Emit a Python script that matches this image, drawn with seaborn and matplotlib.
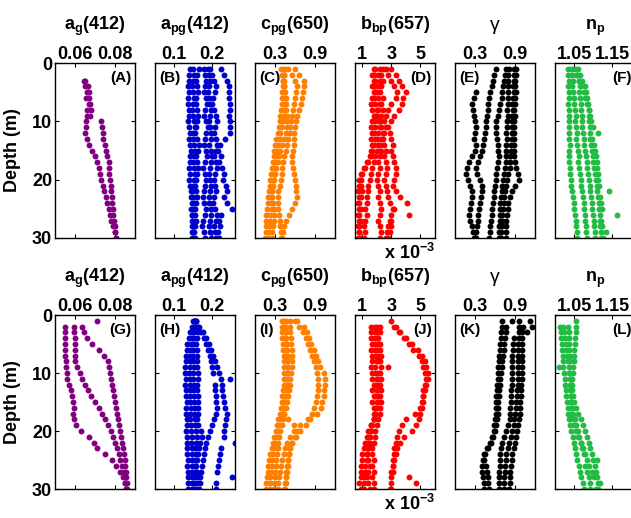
import numpy as np
import pandas as pd
import matplotlib
matplotlib.use("Agg")
import matplotlib.pyplot as plt
import seaborn as sns

nan = np.nan

# depth (m), one reading per metre for every cast
DEPTH = [1, 2, 3, 4, 5, 6, 7, 8, 9, 10, 11, 12, 13, 14, 15,
         16, 17, 18, 19, 20, 21, 22, 23, 24, 25, 26, 27, 28, 29, 30]

# -----------------------------
# top row (A-F)
# -----------------------------
A1 = [nan, nan, 0.0643, 0.0650, 0.0660, 0.0655, 0.0668, 0.0662, 0.0658, 0.0657,
      0.0653, 0.0652, 0.0660, 0.0672, 0.0686, 0.0700, 0.0712, 0.0720, 0.0726, 0.0732,
      0.0740, 0.0747, 0.0754, 0.0762, 0.0770, 0.0776, 0.0782, 0.0790, 0.0798, 0.0805]
A2 = [nan, nan, 0.0652, 0.0665, 0.0672, 0.0668, 0.0676, 0.0680, 0.0673, 0.0730,
      0.0733, 0.0738, 0.0742, 0.0748, 0.0753, 0.0760, 0.0768, 0.0772, 0.0770, 0.0775,
      0.0778, 0.0780, 0.0783, 0.0786, 0.0788, 0.0792, 0.0795, 0.0798, 0.0802, 0.0806]

B1 = [0.142, 0.140, 0.138, 0.137, 0.138, 0.136, 0.137, 0.139, 0.138, 0.137,
      0.139, 0.141, 0.140, 0.142, 0.144, 0.143, 0.141, 0.140, 0.142, 0.140,
      0.143, 0.145, 0.144, 0.146, 0.145, 0.147, 0.146, 0.148, 0.147, 0.149]
B2 = [0.165, 0.160, 0.158, 0.160, 0.162, 0.158, 0.157, 0.160, 0.163, 0.161,
      0.158, 0.156, 0.160, 0.165, 0.162, 0.158, 0.160, 0.164, 0.161, 0.157,
      0.155, 0.158, 0.160, 0.157, 0.154, 0.156, 0.158, 0.155, 0.153, 0.156]
B3 = [0.178, 0.182, 0.185, 0.180, 0.178, 0.183, 0.186, 0.182, 0.179, 0.184,
      0.188, 0.185, 0.181, 0.178, 0.183, 0.187, 0.182, 0.176, 0.180, 0.185,
      0.182, 0.178, 0.175, 0.179, 0.183, 0.180, 0.176, 0.174, 0.178, 0.180]
B4 = [0.195, 0.200, 0.205, 0.210, 0.208, 0.203, 0.200, 0.205, 0.210, 0.212,
      0.208, 0.205, 0.210, 0.214, 0.210, 0.206, 0.209, 0.212, 0.208, 0.204,
      0.207, 0.211, 0.206, 0.203, 0.208, 0.212, 0.209, 0.205, 0.208, 0.210]
B5 = [0.222, 0.232, 0.240, 0.244, 0.245, 0.243, 0.246, 0.247, 0.245, 0.246,
      0.248, 0.247, 0.235, 0.220, 0.215, 0.222, 0.218, 0.225, 0.232, 0.228,
      0.236, 0.240, 0.230, 0.238, 0.252, 0.222, 0.218, 0.220, 0.215, 0.218]
B6 = [0.150, 0.152, 0.150, 0.148, 0.151, 0.153, 0.150, 0.148, 0.150, 0.152,
      0.154, 0.151, 0.149, 0.152, 0.155, 0.153, 0.150, 0.152, 0.155, 0.152,
      0.150, 0.148, 0.151, 0.153, 0.150, 0.148, 0.150, 0.152, 0.150, 0.148]
B7 = [0.190, 0.192, 0.195, 0.193, 0.190, 0.192, 0.195, 0.197, 0.194, 0.192,
      0.195, 0.198, 0.196, 0.193, 0.196, 0.199, 0.197, 0.194, 0.192, 0.195,
      0.197, 0.194, 0.191, 0.193, 0.196, 0.198, 0.195, 0.192, 0.194, 0.196]

C1 = [0.60, 0.66, 0.73, 0.74, 0.72, 0.71, 0.69, 0.66, 0.63, 0.61,
      0.60, 0.59, 0.58, 0.58, 0.57, 0.56, 0.56, 0.57, 0.59, 0.60,
      0.61, 0.62, 0.63, 0.60, 0.55, 0.51, 0.47, 0.43, 0.42, 0.41]
C2 = [0.50, 0.55, 0.60, 0.63, 0.62, 0.60, 0.58, 0.57, 0.55, 0.54,
      0.53, 0.52, 0.50, 0.48, 0.46, 0.44, 0.42, 0.41, 0.40, 0.39,
      0.37, 0.35, 0.34, 0.34, 0.35, 0.36, 0.37, 0.38, 0.39, 0.39]
C3 = [0.43, 0.43, 0.42, 0.42, 0.41, 0.41, 0.40, 0.39, 0.38, 0.37,
      0.36, 0.34, 0.32, 0.30, 0.29, 0.28, 0.27, 0.25, 0.24, 0.23,
      0.22, 0.21, 0.20, 0.19, 0.18, 0.17, 0.17, 0.16, 0.16, 0.15]
C4 = [0.39, 0.40, 0.42, 0.44, 0.45, 0.46, 0.47, 0.47, 0.48, 0.48,
      0.48, 0.47, 0.44, 0.41, 0.38, 0.36, 0.34, 0.32, 0.30, 0.29,
      0.27, 0.26, 0.26, 0.27, 0.28, 0.29, 0.28, 0.27, 0.26, 0.26]
C5 = [0.45, 0.44, 0.44, 0.43, 0.43, 0.44, 0.45, 0.44, 0.43, 0.42,
      0.40, 0.38, 0.37, 0.35, 0.33, 0.31, 0.30, 0.29, 0.28, 0.27,
      0.26, 0.25, 0.24, 0.24, 0.25, 0.23, 0.22, 0.21, 0.21, 0.20]

# b_bp in units of 1e-3
D1 = [2.2, 2.1, 2.2, 2.1, 2.0, 2.1, 2.2, 2.1, 2.0, 2.1,
      2.2, 2.1, 2.0, 2.1, 2.0, 1.9, 1.8, 1.7, 1.6, 1.5,
      1.4, 1.4, 1.3, 1.3, 1.2, 1.3, 1.2, 1.1, 1.2, 1.1]
D2 = [1.9, 1.8, 1.9, 1.8, 1.9, 1.8, 1.9, 2.0, 1.9, 1.8,
      1.9, 1.8, 1.9, 1.8, 1.7, 1.6, 1.4, 1.2, 1.0, 0.9,
      0.9, 1.0, 0.9, 0.8, 0.9, 0.8, 0.9, 0.8, 0.8, 0.9]
D3 = [2.4, 2.3, 2.4, 2.3, 2.2, 2.4, 2.3, 2.4, 2.3, 2.2,
      2.3, 2.4, 2.3, 2.2, 2.3, 2.2, 2.1, 2.2, 2.1, 2.0,
      2.1, 2.2, 2.1, 2.2, 2.3, 2.2, 2.1, 2.2, 2.3, 2.2]
D4 = [3.0, 3.3, 3.5, 3.7, 4.0, 3.8, 3.7, 3.5, 3.2, 3.0,
      2.8, 2.9, 3.0, 3.1, 3.0, 3.1, 3.2, 3.3, 3.3, 3.2,
      3.1, 3.3, 3.6, 4.1, 3.2, 3.0, 2.9, 3.0, 2.9, 2.8]
D5 = [2.6, 2.8, 3.0, 3.2, 3.4, 3.3, 3.0, 2.8, 2.6, 2.5,
      2.6, 2.5, 2.4, 2.5, 2.6, 2.5, 2.6, 2.7, 2.6, 2.5,
      2.6, 2.7, 2.8, 2.9, 3.1, 4.2, 3.0, 2.8, 2.7, 2.6]
D6 = [1.8, 1.7, 1.8, 1.7, 1.8, 1.7, 1.6, 1.7, 1.8, 1.7,
      1.6, 1.7, 1.6, 1.7, 1.6, 1.5, 1.3, 1.1, 0.9, 0.8,
      0.8, 0.7, 0.8, 0.7, 0.8, 0.7, 0.8, 0.7, 0.8, 0.7]

E1 = [0.89, 0.88, 0.88, 0.87, 0.88, 0.87, 0.86, 0.87, 0.86, 0.86,
      0.85, 0.86, 0.85, 0.84, 0.84, 0.83, 0.83, 0.82, 0.80, 0.78,
      0.76, 0.75, 0.74, 0.73, 0.72, 0.71, 0.70, 0.70, 0.69, 0.69]
E2 = [0.81, 0.80, 0.80, 0.79, 0.79, 0.80, 0.79, 0.78, 0.79, 0.78,
      0.78, 0.77, 0.78, 0.77, 0.77, 0.76, 0.76, 0.75, 0.74, 0.72,
      0.71, 0.70, 0.69, 0.68, 0.68, 0.67, 0.67, 0.66, 0.66, 0.66]
E3 = [0.91, 0.91, 0.90, 0.90, 0.91, 0.90, 0.90, 0.89, 0.90, 0.89,
      0.89, 0.88, 0.89, 0.88, 0.88, 0.89, 0.90, 0.92, 0.94, 0.96,
      0.90, 0.85, 0.82, 0.80, 0.79, 0.78, 0.77, 0.77, 0.76, 0.76]
E4 = [0.76, 0.75, 0.73, 0.72, 0.71, 0.70, 0.68, 0.66, 0.64, 0.62,
      0.61, 0.62, 0.63, 0.64, 0.65, 0.66, 0.64, 0.63, 0.62, 0.61,
      0.60, 0.59, 0.58, 0.57, 0.56, 0.55, 0.54, 0.53, 0.52, 0.51]
E5 = [0.61, 0.59, 0.57, 0.55, 0.53, 0.51, 0.50, 0.49, 0.48, 0.47,
      0.46, 0.45, 0.44, 0.42, 0.41, 0.38, 0.34, 0.31, 0.33, 0.37,
      0.40, 0.41, 0.39, 0.37, 0.36, 0.35, 0.34, 0.33, 0.32, 0.31]
E6 = [nan, nan, nan, nan, 0.32, 0.29, 0.26, 0.27, 0.29, 0.30,
      0.31, 0.30, 0.29, 0.31, 0.30, 0.25, 0.21, 0.18, 0.16, 0.19,
      0.22, 0.25, 0.26, 0.24, 0.22, 0.21, 0.23, 0.25, 0.27, 0.28]

F1 = [1.035, 1.034, 1.036, 1.035, 1.037, 1.036, 1.035, 1.037, 1.038, 1.037,
      1.036, 1.038, 1.037, 1.039, 1.038, 1.037, 1.038, 1.039, 1.040, 1.041,
      1.043, 1.045, 1.047, 1.049, 1.051, 1.053, 1.055, 1.056, 1.057, 1.058]
F2 = [1.042, 1.044, 1.046, 1.045, 1.048, 1.050, 1.049, 1.052, 1.054, 1.053,
      1.055, 1.057, 1.056, 1.058, 1.060, 1.062, 1.061, 1.063, 1.065, 1.067,
      1.069, 1.071, 1.073, 1.075, 1.076, 1.078, 1.079, 1.081, 1.082, 1.083]
F3 = [1.055, 1.058, 1.062, 1.065, 1.063, 1.066, 1.068, 1.067, 1.070, 1.072,
      1.071, 1.073, 1.075, 1.077, 1.079, 1.081, 1.083, 1.085, 1.087, 1.089,
      1.091, 1.093, 1.095, 1.097, 1.098, 1.100, 1.102, 1.103, 1.104, 1.105]
F4 = [1.060, 1.066, 1.072, 1.078, 1.082, 1.084, 1.086, 1.088, 1.089, 1.090,
      1.091, 1.092, 1.093, 1.095, 1.097, 1.099, 1.101, 1.103, 1.105, 1.107,
      1.109, 1.111, 1.113, 1.115, 1.116, 1.117, 1.118, 1.119, 1.120, 1.121]
F5 = [1.048, 1.055, 1.062, 1.068, 1.075, 1.080, 1.084, 1.088, 1.092, 1.095,
      1.100, 1.114, 1.098, 1.102, 1.105, 1.107, 1.109, 1.110, 1.112, 1.113,
      1.115, 1.143, 1.118, 1.121, 1.124, 1.164, 1.120, 1.124, 1.135, 1.126]

# -----------------------------
# bottom row (G-L)
# -----------------------------
G1 = [nan, 0.0551, 0.0550, 0.0551, 0.0552, 0.0551, 0.0552, 0.0553, 0.0555, 0.0558,
      0.0562, 0.0570, 0.0580, 0.0586, 0.0590, 0.0593, 0.0588, 0.0595, 0.0605, 0.0630,
      0.0670, 0.0695, 0.0710, 0.0750, 0.0785, 0.0805, 0.0825, 0.0840, 0.0850, 0.0856]
G2 = [nan, 0.0593, 0.0596, 0.0598, 0.0600, 0.0601, 0.0600, 0.0602, 0.0612, 0.0625,
      0.0637, 0.0648, 0.0663, 0.0680, 0.0700, 0.0718, 0.0735, 0.0750, 0.0765, 0.0780,
      0.0792, 0.0802, 0.0810, 0.0818, 0.0826, 0.0836, 0.0843, 0.0848, 0.0852, 0.0856]
G3 = [0.0710, 0.0635, 0.0645, 0.0658, 0.0685, 0.0718, 0.0745, 0.0765, 0.0772, 0.0777,
      0.0781, 0.0786, 0.0790, 0.0795, 0.0800, 0.0806, 0.0810, 0.0814, 0.0820, 0.0826,
      0.0830, 0.0836, 0.0842, 0.0846, 0.0850, 0.0852, 0.0854, 0.0857, 0.0860, 0.0862]

H1 = [0.150, 0.146, 0.142, 0.138, 0.135, 0.133, 0.132, 0.131, 0.130, 0.130,
      0.131, 0.130, 0.132, 0.131, 0.133, 0.132, 0.131, 0.133, 0.134, 0.132,
      0.133, 0.134, 0.135, 0.134, 0.136, 0.135, 0.136, 0.137, 0.136, 0.137]
H2 = [0.152, 0.150, 0.148, 0.146, 0.144, 0.143, 0.142, 0.141, 0.142, 0.140,
      0.141, 0.142, 0.141, 0.143, 0.142, 0.144, 0.143, 0.142, 0.144, 0.145,
      0.146, 0.145, 0.147, 0.146, 0.148, 0.147, 0.146, 0.148, 0.147, 0.146]
H3 = [0.155, 0.154, 0.153, 0.152, 0.151, 0.150, 0.151, 0.150, 0.152, 0.151,
      0.150, 0.152, 0.151, 0.153, 0.152, 0.154, 0.153, 0.155, 0.156, 0.158,
      0.160, 0.158, 0.156, 0.157, 0.155, 0.154, 0.156, 0.155, 0.153, 0.152]
H4 = [0.158, 0.160, 0.162, 0.160, 0.158, 0.159, 0.160, 0.161, 0.160, 0.162,
      0.163, 0.161, 0.160, 0.162, 0.163, 0.164, 0.162, 0.161, 0.163, 0.170,
      0.174, 0.168, 0.165, 0.163, 0.160, 0.158, 0.160, 0.162, 0.159, 0.157]
H5 = [0.155, 0.165, 0.175, 0.185, 0.192, 0.198, 0.203, 0.208, 0.212, 0.218,
      0.222, 0.225, 0.227, 0.229, 0.232, 0.235, 0.238, 0.236, 0.234, 0.232,
      0.231, 0.261, 0.222, 0.220, 0.218, 0.216, 0.214, 0.252, 0.211, 0.210]
H6 = [0.158, 0.163, 0.170, 0.178, 0.185, 0.190, 0.194, 0.197, 0.200, 0.202,
      0.247, 0.207, 0.208, 0.210, 0.211, 0.212, 0.210, 0.205, 0.200, 0.195,
      0.189, 0.184, 0.180, 0.178, 0.176, 0.174, 0.172, 0.169, 0.167, 0.165]

I1 = [0.40, 0.40, 0.41, 0.41, 0.42, 0.42, 0.43, 0.43, 0.44, 0.44,
      0.44, 0.43, 0.42, 0.41, 0.40, 0.39, 0.37, 0.35, 0.33, 0.31,
      0.29, 0.27, 0.25, 0.23, 0.21, 0.20, 0.19, 0.18, 0.17, 0.16]
I2 = [0.46, 0.46, 0.47, 0.47, 0.48, 0.48, 0.49, 0.49, 0.50, 0.50,
      0.50, 0.49, 0.48, 0.46, 0.44, 0.42, 0.40, 0.38, 0.36, 0.34,
      0.32, 0.30, 0.28, 0.27, 0.26, 0.25, 0.24, 0.23, 0.22, 0.22]
I3 = [0.53, 0.53, 0.53, 0.54, 0.54, 0.55, 0.55, 0.55, 0.55, 0.54,
      0.53, 0.52, 0.51, 0.50, 0.48, 0.46, 0.44, 0.42, 0.40, 0.38,
      0.36, 0.35, 0.34, 0.33, 0.32, 0.31, 0.30, 0.30, 0.29, 0.29]
I4 = [0.44, 0.44, 0.45, 0.45, 0.46, 0.46, 0.47, 0.47, 0.48, 0.48,
      0.47, 0.46, 0.45, 0.44, 0.43, 0.42, 0.44, 0.50, 0.58, 0.63,
      0.60, 0.56, 0.53, 0.51, 0.49, 0.48, 0.47, 0.46, 0.45, 0.43]
I5 = [0.63, 0.73, 0.78, 0.81, 0.84, 0.88, 0.92, 0.95, 0.98, 1.03,
      1.05, 1.05, 1.04, 1.03, 1.01, 0.99, 0.93, 0.80, 0.68, 0.58,
      0.52, 0.48, 0.45, 0.43, 0.41, 0.39, 0.37, 0.36, 0.35, 0.34]
I6 = [0.60, 0.66, 0.72, 0.76, 0.79, 0.82, 0.85, 0.88, 0.91, 0.93,
      0.95, 0.95, 0.94, 0.93, 0.91, 0.89, 0.86, 0.82, 0.76, 0.68,
      0.61, 0.56, 0.53, 0.51, 0.50, 0.49, 0.48, 0.47, 0.46, 0.45]

J1 = [nan, 1.6, 1.6, 1.6, 1.7, 1.6, 1.7, 1.7, 1.6, 1.7,
      1.7, 1.8, 1.7, 1.8, 1.7, 1.8, 1.8, 1.8, 1.7, 1.6,
      1.5, 1.4, 1.4, 1.3, 1.3, 1.2, 1.2, 1.1, 1.1, 1.1]
J2 = [nan, 2.2, 2.2, 2.1, 2.2, 2.2, 2.3, 2.2, 2.3, 2.2,
      2.3, 2.2, 2.3, 2.2, 2.3, 2.2, 2.2, 2.1, 2.0, 1.9,
      1.9, 1.8, 1.7, 1.7, 1.8, 1.7, 1.8, 1.7, 1.8, 1.8]
J3 = [nan, 2.0, 2.0, 2.0, 2.1, 2.0, 2.1, 2.0, 2.8, 2.1,
      2.0, 2.1, 2.0, 2.1, 2.1, 2.0, 1.9, 1.8, 1.6, 1.4,
      1.3, 1.2, 1.1, 1.0, 1.0, 0.9, 0.9, 0.9, 0.8, 0.9]
J4 = [3.0, 3.3, 3.5, 3.9, 4.2, 4.5, 4.9, 5.1, 5.2, 5.3,
      5.4, 5.3, 5.2, 5.2, 5.1, 5.0, 5.0, 4.9, 4.7, 4.4,
      3.9, 3.6, 3.4, 3.3, 3.2, 3.1, 3.1, 3.0, 3.0, 2.9]
J5 = [nan, 3.2, 3.6, 4.0, 4.4, 4.8, 5.1, 5.3, 5.4, 5.5,
      5.5, 5.4, 5.3, 5.2, 5.2, 5.1, 4.6, 4.0, 3.7, 3.5,
      3.4, 3.3, 3.2, 3.2, 3.1, 3.1, 3.0, 4.2, 4.7, 3.0]
J6 = [nan, 1.9, 1.9, 1.8, 1.9, 1.9, 1.9, 2.0, 1.9, 1.9,
      2.0, 1.9, 2.0, 1.9, 2.0, 1.9, 1.9, 1.8, 1.6, 1.5,
      1.4, 1.5, 1.4, 1.3, 1.4, 1.5, 1.4, 1.3, 1.4, 1.5]

K1 = [0.71, 0.70, 0.69, 0.69, 0.68, 0.67, 0.66, 0.66, 0.65, 0.64,
      0.64, 0.63, 0.63, 0.62, 0.62, 0.61, 0.61, 0.60, 0.59, 0.58,
      0.56, 0.53, 0.50, 0.45, 0.44, 0.46, 0.48, 0.49, 0.50, 0.51]
K2 = [nan, 0.77, 0.76, 0.75, 0.74, 0.73, 0.72, 0.71, 0.70, 0.69,
      0.68, 0.67, 0.66, 0.66, 0.65, 0.64, 0.64, 0.63, 0.62, 0.60,
      0.57, 0.54, 0.48, 0.44, 0.42, 0.41, 0.41, 0.42, 0.43, 0.44]
K3 = [0.96, 0.96, 0.96, 0.96, 0.95, 0.95, 0.95, 0.95, 0.94, 0.94,
      0.94, 0.94, 0.93, 0.93, 0.92, 0.91, 0.90, 0.89, 0.88, 0.86,
      0.84, 0.81, 0.79, 0.77, 0.76, 0.75, 0.75, 0.74, 0.74, 0.73]
K4 = [0.86, 1.16, 1.08, 0.88, 0.87, 0.87, 0.86, 0.86, 0.86, 0.85,
      0.85, 0.85, 0.84, 0.84, 0.84, 0.83, 0.83, 0.82, 0.80, 0.77,
      0.74, 0.71, 0.69, 0.68, 0.67, 0.67, 0.66, 0.66, 0.66, 0.66]
K5 = [1.13, 1.02, 1.01, 1.01, 1.01, 1.01, 1.00, 1.00, 1.01, 1.00,
      1.00, 0.99, 0.99, 0.99, 0.98, 0.98, 0.97, 0.96, 0.95, 0.93,
      0.92, 0.90, 0.88, 0.86, 0.85, 0.84, 0.83, 0.82, 0.82, 0.81]

L1 = [nan, 1.014, 1.016, 1.017, 1.018, 1.019, 1.020, 1.021, 1.022, 1.024,
      1.025, 1.027, 1.028, 1.029, 1.031, 1.033, 1.034, 1.037, 1.040, 1.043,
      1.046, 1.050, 1.053, 1.056, 1.059, 1.062, 1.066, 1.069, 1.073, 1.077]
L2 = [nan, 1.022, 1.024, 1.026, 1.028, 1.030, 1.032, 1.034, 1.036, 1.038,
      1.041, 1.043, 1.045, 1.048, 1.051, 1.054, 1.060, 1.067, 1.073, 1.078,
      1.083, 1.088, 1.093, 1.097, 1.101, 1.106, 1.108, 1.110, 1.112, 1.113]
L3 = [1.056, 1.055, 1.054, 1.053, 1.052, 1.051, 1.050, 1.049, 1.047, 1.046,
      1.045, 1.044, 1.043, 1.043, 1.043, 1.042, 1.043, 1.046, 1.050, 1.055,
      1.060, 1.067, 1.074, 1.080, 1.085, 1.090, 1.096, 1.102, 1.118, 1.108]
L4 = [nan, 1.035, 1.036, 1.037, 1.037, 1.038, 1.039, 1.039, 1.010, 1.039,
      1.040, 1.039, 1.040, 1.041, 1.043, 1.045, 1.048, 1.052, 1.056, 1.060,
      1.064, 1.068, 1.072, 1.076, 1.110, 1.080, 1.085, 1.089, 1.091, 1.093]

TOP_ROW = [[A1, A2], [B1, B2, B3, B4, B5, B6, B7], [C1, C2, C3, C4, C5],
           [D1, D2, D3, D4, D5, D6], [E1, E2, E3, E4, E5, E6], [F1, F2, F3, F4, F5]]
BOTTOM_ROW = [[G1, G2, G3], [H1, H2, H3, H4, H5, H6], [I1, I2, I3, I4, I5, I6],
              [J1, J2, J3, J4, J5, J6], [K1, K2, K3, K4, K5], [L1, L2, L3, L4]]

TITLES = [r"a$_{g}$(412)", r"a$_{pg}$(412)", r"c$_{pg}$(650)", r"b$_{bp}$(657)", "γ", r"n$_{p}$"]
XLIMS = [(0.05, 0.09), (0.05, 0.26), (0.0, 1.2), (0.5, 6.0), (0.0, 1.2), (1.0, 1.21)]
XTICKS = [[0.06, 0.08], [0.1, 0.2], [0.3, 0.9], [1, 3, 5], [0.3, 0.9], [1.05, 1.15]]
XTICKLABELS = [["0.06", "0.08"], ["0.1", "0.2"], ["0.3", "0.9"], ["1", "3", "5"],
               ["0.3", "0.9"], ["1.05", "1.15"]]
COLORS = ["#800080", "#0000cc", "#ff8000", "#ff0000", "#000000", "#22bb44"]
TAGS = [["(A)", "(B)", "(C)", "(D)", "(E)", "(F)"], ["(G)", "(H)", "(I)", "(J)", "(K)", "(L)"]]
TAG_RIGHT = [True, False, False, True, False, True]

# -----------------------------
# style
# -----------------------------
sns.set_style("white")
plt.rcParams["font.family"] = ["Liberation Sans", "DejaVu Sans"]
plt.rcParams["font.weight"] = "bold"
plt.rcParams["mathtext.fontset"] = "custom"
plt.rcParams["mathtext.rm"] = "Liberation Sans:bold"
plt.rcParams["mathtext.it"] = "Liberation Sans:bold"
plt.rcParams["mathtext.bf"] = "Liberation Sans:bold"
plt.rcParams["mathtext.default"] = "rm"
plt.rcParams["axes.edgecolor"] = "black"
plt.rcParams["axes.linewidth"] = 1.0
plt.rcParams["text.color"] = "black"
plt.rcParams["axes.labelcolor"] = "black"
plt.rcParams["xtick.color"] = "black"
plt.rcParams["ytick.color"] = "black"

W, H = 631, 518
fig = plt.figure(figsize=(W / 100, H / 100), dpi=100)

row_px = [(63, 238), (315, 489)]  # top / bottom pixel of each row of panels

for r, row in enumerate([TOP_ROW, BOTTOM_ROW]):
    top, bot = row_px[r]
    for c, profiles in enumerate(row):
        for p in profiles:
            assert len(p) == len(DEPTH)
        ax = fig.add_axes([(55 + 100 * c) / W, 1 - bot / H, 80 / W, (bot - top) / H])
        df = pd.DataFrame({
            "depth": DEPTH * len(profiles),
            "value": sum(profiles, []),
        }).dropna()
        sns.scatterplot(data=df, x="value", y="depth", color=COLORS[c], s=18,
                        linewidth=0, legend=False, ax=ax)

        ax.set_xlim(*XLIMS[c])
        ax.set_ylim(30, 0)
        ax.set_xticks(XTICKS[c])
        ax.set_xticklabels(XTICKLABELS[c])
        ax.set_yticks([0, 10, 20, 30])
        ax.tick_params(axis="x", direction="in", top=True, bottom=True,
                       labeltop=True, labelbottom=False, length=3, width=0.8,
                       pad=0, labelsize=13)
        ax.tick_params(axis="y", direction="in", left=True, right=True,
                       labelleft=(c == 0), length=3, width=0.8, pad=2,
                       labelsize=13)
        ax.set_xlabel("")
        if c == 0:
            ax.set_ylabel("Depth (m)", fontsize=13, fontweight="bold")
            ax.yaxis.set_label_coords(-0.42, 0.5)
        else:
            ax.set_ylabel("")

        if TITLES[c] == "γ":
            ax.text(0.5, 1.19, TITLES[c], transform=ax.transAxes, ha="center",
                    va="baseline", fontsize=14, fontweight="normal")
        else:
            ax.text(0.5, 1.19, TITLES[c], transform=ax.transAxes, ha="center",
                    va="baseline", fontsize=13)
        if TAG_RIGHT[c]:
            ax.text(0.96, 0.955, TAGS[r][c], transform=ax.transAxes, ha="right",
                    va="top", fontsize=11)
        else:
            ax.text(0.05, 0.955, TAGS[r][c], transform=ax.transAxes, ha="left",
                    va="top", fontsize=11)
        if c == 3:
            ax.text(1.0, -0.03, r"x 10$^{-3}$", transform=ax.transAxes,
                    ha="right", va="top", fontsize=13)

fig.savefig("out.png", dpi=100)
